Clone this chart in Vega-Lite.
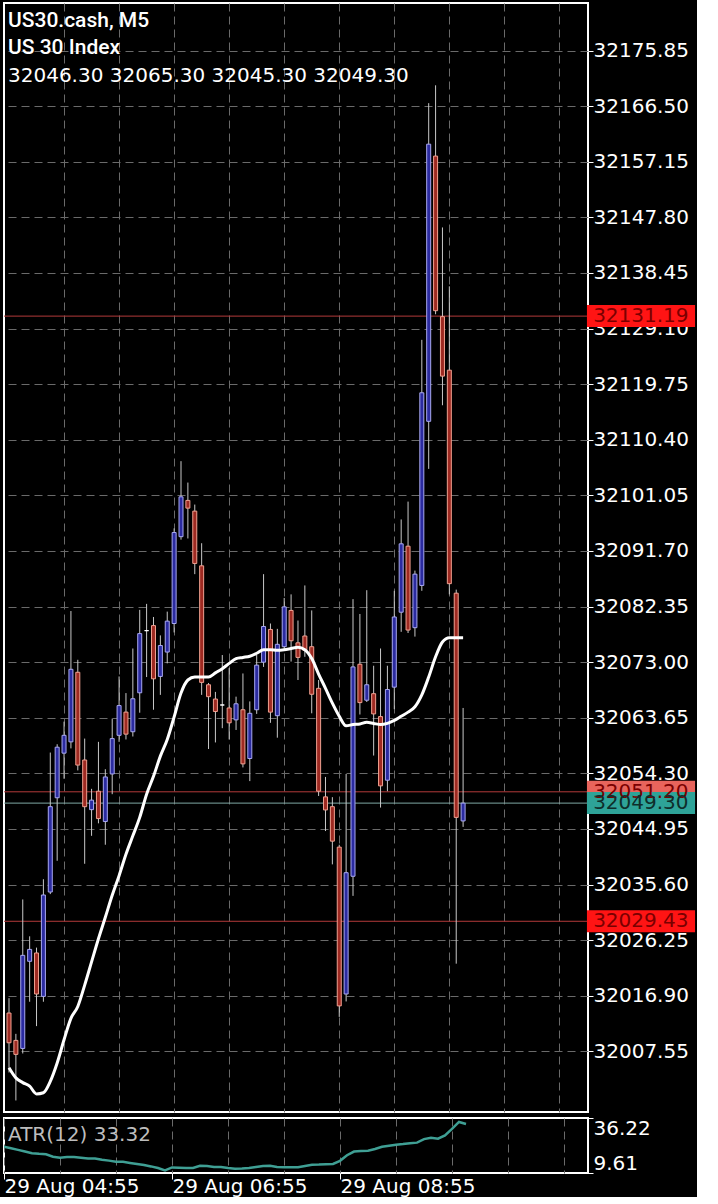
{
  "$schema": "https://vega.github.io/schema/vega-lite/v6.json",
  "background": "#000000",
  "padding": {"left": 2, "top": 2, "right": 0, "bottom": 0},
  "autosize": {"type": "pad"},
  "spacing": 3,
  "config": {
    "view": {"stroke": "#ffffff", "strokeWidth": 2},
    "axis": {"labelFont": "DejaVu Sans", "labelFontSize": 20, "labelColor": "#ffffff", "tickColor": "#ffffff", "domain": false, "gridColor": "#6a6a6a", "gridDash": [8, 5], "gridWidth": 1, "labelOverlap": false, "labelBound": false, "title": null}
  },
  "datasets": {
    "bars": [
      {"t":"2022-08-29T04:55","o":32014.0,"h":32016.5,"l":32004.0,"c":32009.0,"ma":32004.8,"atr":22.3},
      {"t":"2022-08-29T05:00","o":32009.4,"h":32010.5,"l":31999.3,"c":32007.05,"ma":32003.1,"atr":21.6},
      {"t":"2022-08-29T05:05","o":32008.05,"h":32033.1,"l":32007.2,"c":32023.7,"ma":32002.3,"atr":20.8},
      {"t":"2022-08-29T05:10","o":32022.7,"h":32026.9,"l":32015.9,"c":32024.7,"ma":32001.7,"atr":20.0},
      {"t":"2022-08-29T05:15","o":32024.1,"h":32025.0,"l":32011.8,"c":32017.2,"ma":32000.4,"atr":19.2},
      {"t":"2022-08-29T05:20","o":32016.8,"h":32036.5,"l":32015.9,"c":32033.85,"ma":32000.6,"atr":18.9},
      {"t":"2022-08-29T05:25","o":32034.35,"h":32057.8,"l":32034.0,"c":32048.7,"ma":32002.5,"atr":18.7},
      {"t":"2022-08-29T05:30","o":32050.2,"h":32059.2,"l":32039.6,"c":32058.7,"ma":32005.6,"atr":17.5},
      {"t":"2022-08-29T05:35","o":32057.7,"h":32063.0,"l":32053.4,"c":32060.7,"ma":32009.5,"atr":17.0},
      {"t":"2022-08-29T05:40","o":32059.6,"h":32081.6,"l":32058.5,"c":32071.8,"ma":32013.1,"atr":17.3},
      {"t":"2022-08-29T05:45","o":32071.3,"h":32073.4,"l":32054.8,"c":32055.7,"ma":32015.1,"atr":17.3},
      {"t":"2022-08-29T05:50","o":32056.55,"h":32060.15,"l":32039.1,"c":32048.7,"ma":32018.7,"atr":17.0},
      {"t":"2022-08-29T05:55","o":32048.2,"h":32051.7,"l":32043.8,"c":32049.8,"ma":32022.6,"atr":16.6},
      {"t":"2022-08-29T06:00","o":32051.3,"h":32059.6,"l":32045.9,"c":32046.7,"ma":32026.5,"atr":16.6},
      {"t":"2022-08-29T06:05","o":32046.2,"h":32055.0,"l":32042.3,"c":32053.7,"ma":32030.1,"atr":16.0},
      {"t":"2022-08-29T06:10","o":32054.2,"h":32063.5,"l":32050.8,"c":32060.15,"ma":32033.8,"atr":15.6},
      {"t":"2022-08-29T06:15","o":32060.7,"h":32070.6,"l":32059.6,"c":32065.7,"ma":32037.1,"atr":15.1},
      {"t":"2022-08-29T06:20","o":32064.6,"h":32067.8,"l":32060.0,"c":32060.9,"ma":32040.7,"atr":15.0},
      {"t":"2022-08-29T06:25","o":32061.3,"h":32075.3,"l":32060.5,"c":32066.85,"ma":32043.8,"atr":14.5},
      {"t":"2022-08-29T06:30","o":32067.85,"h":32081.8,"l":32064.5,"c":32077.8,"ma":32046.9,"atr":14.0},
      {"t":"2022-08-29T06:35","o":32078.3,"h":32082.8,"l":32070.5,"c":32078.3,"ma":32050.8,"atr":13.5},
      {"t":"2022-08-29T06:40","o":32079.15,"h":32080.6,"l":32065.0,"c":32070.2,"ma":32053.8,"atr":12.8},
      {"t":"2022-08-29T06:45","o":32070.6,"h":32077.5,"l":32067.5,"c":32075.8,"ma":32057.2,"atr":12.0},
      {"t":"2022-08-29T06:50","o":32074.7,"h":32081.5,"l":32072.8,"c":32079.9,"ma":32060.0,"atr":10.9},
      {"t":"2022-08-29T06:55","o":32079.5,"h":32095.5,"l":32078.0,"c":32094.8,"ma":32063.8,"atr":12.3},
      {"t":"2022-08-29T07:00","o":32094.1,"h":32106.8,"l":32093.6,"c":32100.8,"ma":32067.8,"atr":12.2},
      {"t":"2022-08-29T07:05","o":32100.2,"h":32103.2,"l":32093.8,"c":32098.9,"ma":32070.0,"atr":12.0},
      {"t":"2022-08-29T07:10","o":32098.4,"h":32099.5,"l":32087.8,"c":32089.6,"ma":32070.5,"atr":12.0},
      {"t":"2022-08-29T07:15","o":32089.2,"h":32093.0,"l":32067.5,"c":32069.6,"ma":32070.5,"atr":13.1},
      {"t":"2022-08-29T07:20","o":32069.2,"h":32069.5,"l":32058.4,"c":32067.2,"ma":32070.5,"atr":13.0},
      {"t":"2022-08-29T07:25","o":32066.8,"h":32068.0,"l":32059.5,"c":32064.7,"ma":32071.2,"atr":12.5},
      {"t":"2022-08-29T07:30","o":32065.8,"h":32074.2,"l":32061.9,"c":32065.8,"ma":32071.9,"atr":12.5},
      {"t":"2022-08-29T07:35","o":32065.3,"h":32072.0,"l":32060.0,"c":32062.8,"ma":32072.8,"atr":12.0},
      {"t":"2022-08-29T07:40","o":32063.3,"h":32067.2,"l":32061.6,"c":32066.0,"ma":32073.6,"atr":11.7},
      {"t":"2022-08-29T07:45","o":32065.0,"h":32071.1,"l":32055.3,"c":32055.9,"ma":32073.8,"atr":11.8},
      {"t":"2022-08-29T07:50","o":32056.8,"h":32066.4,"l":32053.0,"c":32064.4,"ma":32074.0,"atr":12.0},
      {"t":"2022-08-29T07:55","o":32065.0,"h":32074.2,"l":32064.3,"c":32072.5,"ma":32074.5,"atr":12.5},
      {"t":"2022-08-29T08:00","o":32073.0,"h":32087.8,"l":32072.2,"c":32079.0,"ma":32075.1,"atr":13.0},
      {"t":"2022-08-29T08:05","o":32078.5,"h":32079.5,"l":32062.8,"c":32064.6,"ma":32075.1,"atr":13.1},
      {"t":"2022-08-29T08:10","o":32064.0,"h":32078.6,"l":32060.3,"c":32076.0,"ma":32075.0,"atr":12.5},
      {"t":"2022-08-29T08:15","o":32075.6,"h":32083.8,"l":32075.0,"c":32082.3,"ma":32075.1,"atr":12.4},
      {"t":"2022-08-29T08:20","o":32081.7,"h":32084.4,"l":32073.1,"c":32076.6,"ma":32075.3,"atr":12.4},
      {"t":"2022-08-29T08:25","o":32076.25,"h":32080.0,"l":32070.0,"c":32073.8,"ma":32075.5,"atr":12.4},
      {"t":"2022-08-29T08:30","o":32077.4,"h":32085.9,"l":32073.9,"c":32075.0,"ma":32075.1,"atr":13.0},
      {"t":"2022-08-29T08:35","o":32075.6,"h":32081.7,"l":32064.4,"c":32067.6,"ma":32073.6,"atr":13.6},
      {"t":"2022-08-29T08:40","o":32068.6,"h":32070.0,"l":32050.5,"c":32051.3,"ma":32071.0,"atr":13.7},
      {"t":"2022-08-29T08:45","o":32050.35,"h":32053.7,"l":32044.6,"c":32048.15,"ma":32068.6,"atr":13.9},
      {"t":"2022-08-29T08:50","o":32048.7,"h":32050.3,"l":32039.0,"c":32042.9,"ma":32066.1,"atr":14.0},
      {"t":"2022-08-29T08:55","o":32041.9,"h":32042.3,"l":32013.35,"c":32015.2,"ma":32063.9,"atr":15.5},
      {"t":"2022-08-29T09:00","o":32017.2,"h":32054.2,"l":32015.95,"c":32037.6,"ma":32062.3,"atr":18.2},
      {"t":"2022-08-29T09:05","o":32037.0,"h":32083.6,"l":32033.7,"c":32072.2,"ma":32062.5,"atr":20.0},
      {"t":"2022-08-29T09:10","o":32072.65,"h":32081.1,"l":32064.2,"c":32066.2,"ma":32062.6,"atr":20.3},
      {"t":"2022-08-29T09:15","o":32066.6,"h":32085.1,"l":32066.3,"c":32069.2,"ma":32062.9,"atr":20.4},
      {"t":"2022-08-29T09:20","o":32067.7,"h":32072.4,"l":32057.3,"c":32064.3,"ma":32062.7,"atr":21.2},
      {"t":"2022-08-29T09:25","o":32063.85,"h":32075.3,"l":32048.55,"c":32052.2,"ma":32062.5,"atr":22.3},
      {"t":"2022-08-29T09:30","o":32053.15,"h":32072.4,"l":32051.3,"c":32068.4,"ma":32062.7,"atr":22.8},
      {"t":"2022-08-29T09:35","o":32068.8,"h":32085.0,"l":32065.1,"c":32080.6,"ma":32063.2,"atr":23.3},
      {"t":"2022-08-29T09:40","o":32081.4,"h":32097.0,"l":32078.1,"c":32092.9,"ma":32063.9,"atr":23.6},
      {"t":"2022-08-29T09:45","o":32092.5,"h":32100.0,"l":32077.9,"c":32078.4,"ma":32064.6,"atr":24.0},
      {"t":"2022-08-29T09:50","o":32078.8,"h":32088.4,"l":32077.3,"c":32087.8,"ma":32065.5,"atr":24.3},
      {"t":"2022-08-29T09:55","o":32085.9,"h":32127.2,"l":32085.0,"c":32118.3,"ma":32067.5,"atr":26.0},
      {"t":"2022-08-29T10:00","o":32113.5,"h":32167.0,"l":32105.5,"c":32160.1,"ma":32070.5,"atr":26.7},
      {"t":"2022-08-29T10:05","o":32158.1,"h":32170.0,"l":32131.5,"c":32132.1,"ma":32073.9,"atr":26.2},
      {"t":"2022-08-29T10:10","o":32131.1,"h":32146.1,"l":32116.2,"c":32121.1,"ma":32076.4,"atr":27.8},
      {"t":"2022-08-29T10:15","o":32122.1,"h":32136.2,"l":32084.4,"c":32086.2,"ma":32077.1,"atr":31.0},
      {"t":"2022-08-29T10:20","o":32084.6,"h":32085.2,"l":32022.3,"c":32046.9,"ma":32077.1,"atr":34.3},
      {"t":"2022-08-29T10:25","o":32046.3,"h":32065.3,"l":32045.3,"c":32049.3,"ma":32077.1,"atr":33.32}
    ],
    "levels": [
      {"price": 32131.19, "kind": "level"},
      {"price": 32051.20, "kind": "ask"},
      {"price": 32049.30, "kind": "bid"},
      {"price": 32029.43, "kind": "level"}
    ]
  },
  "vconcat": [
    {
      "width": 584,
      "height": 1109,
      "title": {
        "text": ["US30.cash, M5", "US 30 Index"],
        "subtitle": "32046.30 32065.30 32045.30 32049.30",
        "anchor": "start",
        "frame": "group",
        "orient": "top",
        "offset": -83,
        "dx": 4,
        "font": "Roboto",
        "fontSize": 21,
        "fontWeight": 500,
        "color": "#ffffff",
        "lineHeight": 27,
        "subtitleFont": "DejaVu Sans",
        "subtitleFontSize": 20,
        "subtitleFontWeight": "normal",
        "subtitleColor": "#ffffff",
        "subtitlePadding": 8
      },
      "layer": [
        {
          "data": {"name": "levels"},
          "mark": {"type": "rule", "strokeWidth": 1},
          "encoding": {
            "y": {"field": "price", "type": "quantitative",
              "scale": {"domain": [31998.2, 32183.0], "nice": false, "zero": false},
              "axis": {"orient": "right", "title": null, "format": ".2f", "grid": true, "ticks": true, "tickSize": 5, "labelPadding": 0, "labelBaseline": "middle",
                "values": [32007.55, 32016.9, 32026.25, 32035.6, 32044.95, 32054.3, 32063.65, 32073, 32082.35, 32091.7, 32101.05, 32110.4, 32119.75, 32129.1, 32138.45, 32147.8, 32157.15, 32166.5, 32175.85]}},
            "color": {"condition": {"test": "datum.kind === 'bid'", "value": "#7fa8a4"}, "value": "#b33a3a"}
          }
        },
        {
          "data": {"name": "bars"},
          "mark": {"type": "rule", "strokeWidth": 1, "clip": true, "color": "#c8c8c8"},
          "encoding": {
            "x": {"field": "t", "type": "temporal",
              "scale": {"domain": [{"year": 2022, "month": 8, "date": 29, "hours": 4, "minutes": 55}, {"year": 2022, "month": 8, "date": 29, "hours": 11, "minutes": 52, "seconds": 8}]},
              "axis": {"orient": "bottom", "title": null, "labels": false, "ticks": false, "grid": true,
                "values": [
                  {"year": 2022, "month": 8, "date": 29, "hours": 5, "minutes": 35},
                  {"year": 2022, "month": 8, "date": 29, "hours": 6, "minutes": 15},
                  {"year": 2022, "month": 8, "date": 29, "hours": 6, "minutes": 55},
                  {"year": 2022, "month": 8, "date": 29, "hours": 7, "minutes": 35},
                  {"year": 2022, "month": 8, "date": 29, "hours": 8, "minutes": 15},
                  {"year": 2022, "month": 8, "date": 29, "hours": 8, "minutes": 55},
                  {"year": 2022, "month": 8, "date": 29, "hours": 9, "minutes": 35},
                  {"year": 2022, "month": 8, "date": 29, "hours": 10, "minutes": 15},
                  {"year": 2022, "month": 8, "date": 29, "hours": 10, "minutes": 55},
                  {"year": 2022, "month": 8, "date": 29, "hours": 11, "minutes": 35}
                ]}},
            "y": {"field": "l", "type": "quantitative"},
            "y2": {"field": "h"}
          }
        },
        {
          "data": {"name": "bars"},
          "mark": {"type": "bar", "size": 4, "strokeWidth": 1, "clip": true},
          "encoding": {
            "x": {"field": "t", "type": "temporal"},
            "y": {"field": "o", "type": "quantitative"},
            "y2": {"field": "c"},
            "fill": {"condition": {"test": "datum.c >= datum.o", "value": "#2b2ba0"}, "value": "#9e2a22"},
            "stroke": {"condition": [{"test": "datum.c === datum.o", "value": "#ffffff"}, {"test": "datum.c > datum.o", "value": "#a8a8f0"}], "value": "#f0a090"}
          }
        },
        {
          "data": {"name": "bars"},
          "mark": {"type": "line", "color": "#ffffff", "strokeWidth": 3, "clip": true, "interpolate": "monotone"},
          "encoding": {
            "x": {"field": "t", "type": "temporal"},
            "y": {"field": "ma", "type": "quantitative"}
          }
        },
        {
          "data": {"name": "levels"},
          "mark": {"type": "bar", "height": 22},
          "encoding": {
            "x": {"datum": {"year": 2022, "month": 8, "date": 29, "hours": 11, "minutes": 55}, "type": "temporal"},
            "x2": {"datum": {"year": 2022, "month": 8, "date": 29, "hours": 13, "minutes": 13, "seconds": 34}},
            "y": {"field": "price", "type": "quantitative"},
            "color": {"field": "kind", "type": "nominal", "scale": {"domain": ["level", "ask", "bid"], "range": ["#ff1414", "#e8645c", "#2ea398"]}, "legend": null}
          }
        },
        {
          "data": {"name": "levels"},
          "mark": {"type": "text", "align": "left", "baseline": "middle", "font": "DejaVu Sans", "fontSize": 20},
          "encoding": {
            "x": {"datum": {"year": 2022, "month": 8, "date": 29, "hours": 11, "minutes": 59, "seconds": 30}, "type": "temporal"},
            "y": {"field": "price", "type": "quantitative"},
            "text": {"field": "price", "type": "quantitative", "format": ".2f"},
            "color": {"condition": {"test": "datum.kind === 'bid'", "value": "#0e2e2b"}, "value": "#7a0000"}
          }
        }
      ]
    },
    {
      "width": 584,
      "height": 55,
      "title": {
        "text": "ATR(12) 33.32",
        "anchor": "start",
        "frame": "group",
        "orient": "top",
        "offset": -27,
        "dx": 4,
        "font": "DejaVu Sans",
        "fontSize": 20,
        "fontWeight": "normal",
        "color": "#bdbdbd"
      },
      "data": {"name": "bars"},
      "mark": {"type": "line", "color": "#3f9f94", "strokeWidth": 2.5, "clip": true},
      "encoding": {
        "x": {"field": "t", "type": "temporal",
          "scale": {"domain": [{"year": 2022, "month": 8, "date": 29, "hours": 4, "minutes": 55}, {"year": 2022, "month": 8, "date": 29, "hours": 11, "minutes": 52, "seconds": 8}]},
          "axis": {"orient": "bottom", "title": null, "grid": true, "ticks": true, "tickSize": 6, "labelPadding": -3, "labelAlign": "left", "labelBaseline": "top", "labelFlush": false,
            "format": "%d %b %H:%M",
            "labelExpr": "(minutes(datum.value) == 55 && hours(datum.value) % 2 == 0 && hours(datum.value) < 10) ? datum.label : ''",
            "tickOpacity": {"condition": {"test": "minutes(datum.value) == 55 && hours(datum.value) % 2 == 0 && hours(datum.value) < 10", "value": 1}, "value": 0},
            "values": [
              {"year": 2022, "month": 8, "date": 29, "hours": 4, "minutes": 55},
              {"year": 2022, "month": 8, "date": 29, "hours": 5, "minutes": 35},
              {"year": 2022, "month": 8, "date": 29, "hours": 6, "minutes": 15},
              {"year": 2022, "month": 8, "date": 29, "hours": 6, "minutes": 55},
              {"year": 2022, "month": 8, "date": 29, "hours": 7, "minutes": 35},
              {"year": 2022, "month": 8, "date": 29, "hours": 8, "minutes": 15},
              {"year": 2022, "month": 8, "date": 29, "hours": 8, "minutes": 55},
              {"year": 2022, "month": 8, "date": 29, "hours": 9, "minutes": 35},
              {"year": 2022, "month": 8, "date": 29, "hours": 10, "minutes": 15},
              {"year": 2022, "month": 8, "date": 29, "hours": 10, "minutes": 55},
              {"year": 2022, "month": 8, "date": 29, "hours": 11, "minutes": 35}
            ]}},
        "y": {"field": "atr", "type": "quantitative",
          "scale": {"domain": [9.61, 36.22], "nice": false, "zero": false},
          "axis": {"orient": "right", "title": null, "grid": false, "values": [9.61, 36.22], "format": ".2f", "labelFlush": true, "tickSize": 5, "labelPadding": 0}}
      }
    }
  ]
}
